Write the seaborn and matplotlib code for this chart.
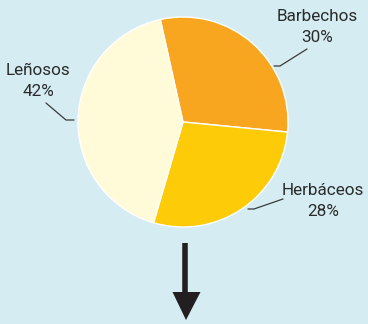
import matplotlib
matplotlib.use("Agg")
import matplotlib.pyplot as plt
import seaborn as sns

# Land-use shares
categories = ["Barbechos", "Herbáceos", "Leñosos"]
shares = [30, 28, 42]
colors = ["#f8a61f", "#fecb08", "#fffbd9"]
bg = "#d4ecf2"

sns.set_theme(style="white")
plt.rcParams["font.family"] = ["Roboto", "DejaVu Sans"]

fig = plt.figure(figsize=(3.68, 3.24), dpi=100, facecolor=bg)
ax = fig.add_axes([0, 0, 1, 1])
ax.set_facecolor(bg)

ax.pie(shares, colors=colors, startangle=102.5, counterclock=False,
       center=(183, 202), radius=105,
       wedgeprops=dict(edgecolor="white", linewidth=1.0))

# pixel-like coordinate frame (pie resets the limits, so set them afterwards)
ax.set_xlim(0, 368)
ax.set_ylim(0, 324)
ax.set_aspect("equal")
ax.axis("off")

txt = "#2b2b2b"
label_pos = {
    "Barbechos": (317, 297),
    "Herbáceos": (323, 123),
    "Leñosos": (38, 243),
}
for name, val in zip(categories, shares):
    x, y = label_pos[name]
    ax.text(x, y, f"{name}\n{val}%", ha="center", va="center",
            fontsize=12.3, color=txt, linespacing=1.55)

# leader lines
lc = "#3a3a3a"
ax.plot([274, 280, 307], [258, 258, 275], color=lc, lw=0.9)
ax.plot([46, 66, 74], [221, 204, 204], color=lc, lw=0.9)
ax.plot([248, 254, 283], [115, 115, 125], color=lc, lw=0.9)

# downward arrow
ax.plot([185, 185], [81, 32], color="#231f20", lw=4, solid_capstyle="butt")
ax.fill([172.5, 200.5, 186], [32, 32, 4], color="#231f20", lw=0)

fig.savefig("out.png", dpi=100, facecolor=bg)
